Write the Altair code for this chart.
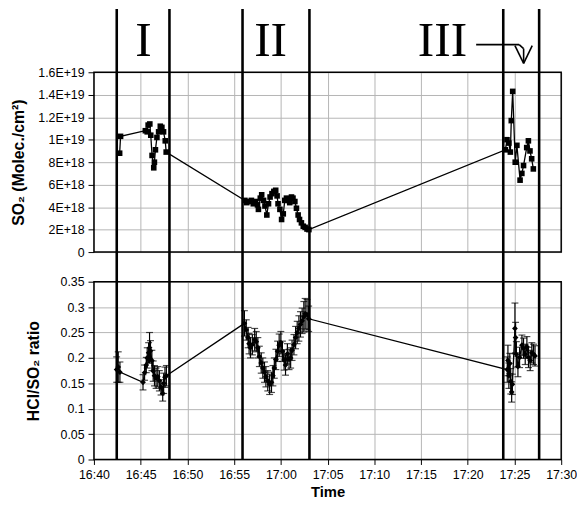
import altair as alt
import pandas as pd

# time in minutes after 16:40
so2_t = [2.75, 2.85, 5.5, 5.7, 5.8, 5.98, 6.08, 6.22, 6.4, 6.47, 6.58, 6.74, 6.92, 7.1, 7.27, 7.45, 7.63, 7.73,
         16.15, 16.35, 16.6, 16.85, 17.05, 17.3, 17.5, 17.6, 17.8, 17.95, 18.15, 18.3, 18.5, 18.68, 18.85, 19.05,
         19.25, 19.45, 19.6, 19.7, 19.9, 20.08, 20.26, 20.42, 20.6, 20.8, 20.95, 21.14, 21.3, 21.5, 21.67, 21.85,
         22.0, 22.2, 22.4, 22.6, 22.8, 23.0,
         44.03, 44.2, 44.4, 44.56, 44.66, 44.81, 45.08, 45.26, 45.6, 45.79, 45.97, 46.31, 46.49, 46.66, 46.84, 47.02]
# SO2 column in units of 1E+18 molec/cm2
so2_v = [8.8, 10.3, 10.8, 10.7, 11.3, 11.4, 10.4, 8.6, 7.5, 8.0, 9.1, 10.2, 10.7, 11.2, 11.1, 10.7, 9.9, 8.9,
         4.6, 4.4, 4.5, 4.6, 4.3, 4.5, 4.2, 3.8, 4.8, 5.1, 4.6, 4.1, 3.3, 4.3, 4.9, 5.2,
         5.4, 5.5, 5.0, 4.3, 3.8, 2.9, 3.4, 4.6, 4.8, 4.6, 4.4, 4.9, 4.8, 4.5, 3.9, 3.3,
         2.9, 2.6, 2.3, 2.2, 2.05, 2.0,
         9.1, 10.0, 9.7, 8.9, 11.7, 14.3, 8.0, 9.5, 6.4, 7.0, 7.7, 9.3, 9.9, 9.0, 8.3, 7.4]

ratio_t = [2.43, 2.6, 2.78, 5.25, 5.42, 5.6, 5.7, 5.85, 5.95, 6.05, 6.2, 6.34, 6.48, 6.65, 6.83, 7.0, 7.18, 7.36,
           7.46, 7.6, 7.75,
           16.1, 16.3, 16.5, 16.6, 16.75, 16.95, 17.2, 17.37, 17.54, 17.7, 17.9, 18.07, 18.25, 18.4, 18.6, 18.8,
           19.0, 19.15, 19.3, 19.47, 19.65, 19.82, 20.0, 20.17, 20.35, 20.5, 20.7, 20.88, 21.05, 21.2, 21.4, 21.58,
           21.75, 21.93, 22.1, 22.28, 22.46, 22.6, 22.8, 22.98,
           44.23, 44.3, 44.4, 44.5, 44.6, 44.7, 44.78, 45.05, 45.12, 45.2, 45.37, 45.55, 45.8, 45.97, 46.15, 46.33,
           46.5, 46.68, 46.86, 47.04, 47.2]
ratio_v = [0.177, 0.182, 0.172, 0.152, 0.171, 0.186, 0.2, 0.21, 0.22, 0.214, 0.195, 0.174, 0.165, 0.16, 0.163,
           0.155, 0.142, 0.13, 0.15, 0.162, 0.165,
           0.268, 0.255, 0.24, 0.228, 0.22, 0.226, 0.236, 0.232, 0.22, 0.203, 0.19, 0.18, 0.172, 0.163, 0.155,
           0.148, 0.152, 0.165, 0.18, 0.197, 0.213, 0.225, 0.23, 0.213, 0.196, 0.186, 0.208, 0.197, 0.2, 0.215,
           0.226, 0.24, 0.25, 0.258, 0.266, 0.273, 0.281, 0.287, 0.285, 0.277,
           0.177, 0.195, 0.165, 0.189, 0.154, 0.133, 0.148, 0.258, 0.24, 0.207, 0.183, 0.201, 0.225, 0.219,
           0.207, 0.222, 0.201, 0.195, 0.21, 0.207, 0.204]
ratio_err = [0.025, 0.03, 0.02, 0.015, 0.015, 0.015, 0.02, 0.02, 0.03, 0.02, 0.02, 0.02, 0.02, 0.02, 0.02,
             0.02, 0.015, 0.015, 0.02, 0.02, 0.02,
             0.025, 0.02, 0.02, 0.02, 0.02, 0.02, 0.022, 0.02, 0.02, 0.02, 0.02, 0.02, 0.02, 0.02, 0.02,
             0.02, 0.02, 0.02, 0.02, 0.02, 0.02, 0.022, 0.022, 0.02, 0.02, 0.02, 0.02, 0.02, 0.02, 0.02,
             0.02, 0.022, 0.022, 0.025, 0.025, 0.025, 0.03, 0.03, 0.03, 0.025,
             0.025, 0.03, 0.025, 0.02, 0.025, 0.02, 0.02, 0.05, 0.03, 0.025, 0.02, 0.02, 0.02, 0.02,
             0.02, 0.02, 0.02, 0.02, 0.02, 0.02, 0.02]

region_line_t = [2.44, 8.08, 15.9, 23.06, 43.8, 47.64]
region_names = ["I", "II", "III"]
region_label_t = [5.3, 18.9, 37.3]
# arrow after "III": (t_start, t_end, y_start_px, y_end_px) relative to top plot
arrow_segments = [(40.9, 45.5, -28, -28), (45.5, 45.98, -28, -24), (45.98, 45.98, -24, -9),
                  (45.05, 45.98, -27, -9), (46.9, 45.98, -27, -9)]

x_ticks = list(range(0, 51, 5))
so2_ticks = list(range(0, 17, 2))
ratio_ticks = [0, 0.05, 0.1, 0.15, 0.2, 0.25, 0.3, 0.35]

W, H1, H2, GAP = 473, 182, 180, 30
FONT = "Liberation Sans"

so2 = pd.DataFrame({"t": so2_t, "v": so2_v})
rat = pd.DataFrame({"t": ratio_t, "r": ratio_v})
rat["lo"] = rat["r"] - pd.Series(ratio_err)
rat["hi"] = rat["r"] + pd.Series(ratio_err)
one = pd.DataFrame({"a": [0]})

xscale = alt.Scale(domain=[0, 50], nice=False, zero=False)
rscale = alt.Scale(domain=[0, 0.35], nice=False)
time_expr = ("floor((1000 + datum.value) / 60) + ':' + (((1000 + datum.value) % 60) < 10 ? '0' : '') "
             "+ ((1000 + datum.value) % 60)")

x_top = alt.X("t:Q", scale=xscale,
              axis=alt.Axis(values=x_ticks, labels=False, ticks=False, domain=False, title=None))
y_top = alt.Y("v:Q", scale=alt.Scale(domain=[0, 16], nice=False),
              axis=alt.Axis(values=so2_ticks, title="SO₂ (Molec./cm²)", titlePadding=11, domain=False,
                            labelExpr="datum.value == 0 ? '0' : (datum.value < 10 ? datum.value + 'E+18' : (datum.value / 10) + 'E+19')"))

top_line = alt.Chart(so2).mark_line(color="black", strokeWidth=1.3).encode(x=x_top, y=y_top, order="t:Q")
top_pts = alt.Chart(so2).mark_square(color="black", size=32, opacity=1).encode(x=x_top, y=y_top)
labels = alt.Chart(pd.DataFrame({"name": region_names, "t": region_label_t})).mark_text(
    font="Liberation Serif", fontSize=50, baseline="alphabetic", align="center", color="black"
).encode(x=alt.X("t:Q", scale=xscale), y=alt.value(-16), text="name:N")
arrow_layers = [
    alt.Chart(one).mark_rule(color="black", strokeWidth=1.6).encode(
        x=alt.datum(a), x2=alt.datum(b), y=alt.value(c), y2=alt.value(d))
    for a, b, c, d in arrow_segments
]
top_border = alt.Chart(one).mark_rect(filled=False, stroke="black", strokeWidth=1.5).encode(
    x=alt.value(0), x2=alt.value(W), y=alt.value(0), y2=alt.value(H1))
top = alt.layer(top_line, top_pts, labels, *arrow_layers, top_border).properties(width=W, height=H1)

x_bot = alt.X("t:Q", scale=xscale,
              axis=alt.Axis(values=x_ticks, labelExpr=time_expr, title="Time", tickSize=5, domain=False,
                            labelFlush=False, titleFontSize=15, titlePadding=4))
bot_axis = alt.Axis(values=ratio_ticks, title="HCl/SO₂ ratio", titlePadding=19, domain=False,
                    labelExpr="format(datum.value, '.2~f')")
y_bot = alt.Y("r:Q", scale=rscale, axis=bot_axis)

err = alt.Chart(rat).mark_rule(color="black", strokeWidth=1.2).encode(
    x=x_bot, y=alt.Y("lo:Q", scale=rscale, axis=bot_axis), y2="hi:Q")
cap_lo = alt.Chart(rat).mark_tick(color="black", orient="horizontal", size=7, thickness=1.2).encode(
    x=x_bot, y=alt.Y("lo:Q", scale=rscale, axis=bot_axis))
cap_hi = alt.Chart(rat).mark_tick(color="black", orient="horizontal", size=7, thickness=1.2).encode(
    x=x_bot, y=alt.Y("hi:Q", scale=rscale, axis=bot_axis))
bot_line = alt.Chart(rat).mark_line(color="black", strokeWidth=1.3).encode(x=x_bot, y=y_bot, order="t:Q")
bot_pts = alt.Chart(rat).mark_point(shape="diamond", filled=True, color="black", size=34, opacity=1).encode(
    x=x_bot, y=y_bot)
regions = alt.Chart(pd.DataFrame({"t": region_line_t})).mark_rule(color="black", strokeWidth=2.6).encode(
    x=alt.X("t:Q", scale=xscale), y=alt.value(-(H1 + GAP + 64)), y2=alt.value(H2))
bot_border = alt.Chart(one).mark_rect(filled=False, stroke="black", strokeWidth=1.5).encode(
    x=alt.value(0), x2=alt.value(W), y=alt.value(0), y2=alt.value(H2))
bottom = alt.layer(bot_line, err, cap_lo, cap_hi, bot_pts, regions, bot_border).properties(width=W, height=H2)

chart = alt.vconcat(top, bottom, spacing=GAP, bounds="flush").properties(
    padding={"left": 3, "top": -4, "right": 0, "bottom": 5}
).configure_view(stroke=None).configure_axis(
    labelFont=FONT, titleFont=FONT, labelFontSize=12.5, titleFontSize=16, labelColor="black",
    titleColor="black", titleFontWeight="bold", gridColor="#b5b5b5", gridWidth=1, tickColor="black",
    tickSize=6, labelPadding=4
)

chart.save("out.html", embed_options={"renderer": "svg", "actions": False})
